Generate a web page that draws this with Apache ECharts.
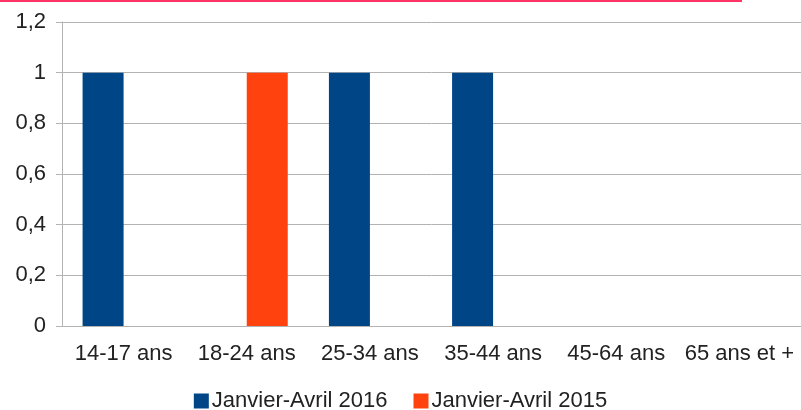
<!DOCTYPE html>
<html>
<head>
<meta charset="utf-8">
<script src="https://cdn.jsdelivr.net/npm/echarts@6/dist/echarts.min.js"></script>
<style>
html,body{margin:0;padding:0;background:#fff;}
#chart{width:801px;height:410px;}
</style>
</head>
<body>
<div id="chart"></div>
<script>
var categories = ['14-17 ans', '18-24 ans', '25-34 ans', '35-44 ans', '45-64 ans', '65 ans et +'];
var serie2016 = [1, 0, 1, 1, 0, 0];
var serie2015 = [0, 1, 0, 0, 0, 0];
var yTicks = [0, 0.2, 0.4, 0.6, 0.8, 1, 1.2];

var myChart = echarts.init(document.getElementById('chart'));
var option = {
    animation: false,
    textStyle: {fontFamily: 'Liberation Sans'},
    graphic: [{
        type: 'rect',
        shape: {x: 0, y: 0, width: 742, height: 2},
        style: {fill: '#ff3366'}
    }],
    grid: {left: 62, top: 22, width: 744, bottom: 84},
    legend: {
        top: 385,
        left: 'center',
        itemWidth: 15,
        itemHeight: 15,
        itemGap: 26,
        icon: 'rect',
        textStyle: {fontSize: 22, color: '#222', fontFamily: 'Liberation Sans', padding: [0, 0, 0, -2]},
        data: ['Janvier-Avril 2016', 'Janvier-Avril 2015']
    },
    xAxis: {
        type: 'category',
        data: categories,
        axisLine: {lineStyle: {color: '#b3b3b3'}},
        axisTick: {length: 8, lineStyle: {color: '#b3b3b3'}},
        axisLabel: {fontSize: 22, color: '#222', margin: 17, interval: 0}
    },
    yAxis: {
        type: 'value',
        min: 0,
        max: 1.2,
        interval: 0.2,
        axisLine: {show: true, lineStyle: {color: '#b3b3b3'}},
        axisTick: {show: true, length: 6, lineStyle: {color: '#b3b3b3'}},
        splitLine: {lineStyle: {color: '#b3b3b3'}},
        axisLabel: {
            fontSize: 22, color: '#222', margin: 16,
            formatter: function (v) {
                var t = yTicks.filter(function (x) { return Math.abs(x - v) < 1e-6; });
                var n = t.length ? t[0] : v;
                return String(Math.round(n * 10) / 10).replace('.', ',');
            }
        }
    },
    series: [{
        name: 'Janvier-Avril 2016',
        type: 'bar',
        data: serie2016,
        barWidth: 41,
        barGap: '0%',
        itemStyle: {color: '#004586'}
    }, {
        name: 'Janvier-Avril 2015',
        type: 'bar',
        data: serie2015,
        barWidth: 41,
        barGap: '0%',
        itemStyle: {color: '#ff420e'}
    }]
};
myChart.setOption(option);
</script>
</body>
</html>
